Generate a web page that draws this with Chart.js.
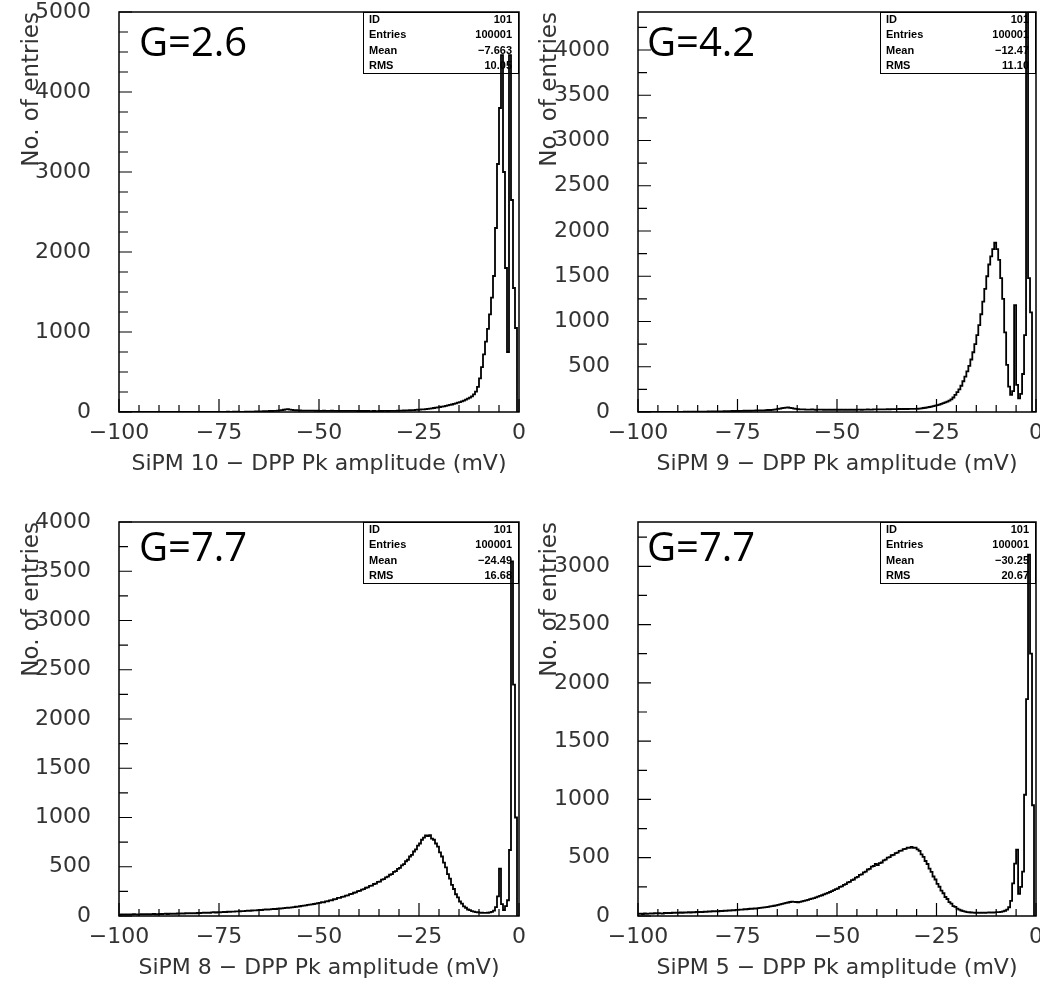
<!DOCTYPE html>
<html>
<head>
<meta charset="utf-8">
<title>SiPM DPP Pk amplitude</title>
<script src="https://cdn.jsdelivr.net/npm/chart.js@4.4.1/dist/chart.umd.min.js"></script>
<style>
  body { margin: 0; background: #fff; }
  #wrap { position: relative; width: 1040px; height: 995px; overflow: hidden; }
  canvas { position: absolute; }
</style>
</head>
<body>
<div id="wrap">
  <canvas id="p1" width="525" height="490" style="left:0;top:0"></canvas>
  <canvas id="p2" width="515" height="490" style="left:525px;top:0"></canvas>
  <canvas id="p3" width="525" height="505" style="left:0;top:490px"></canvas>
  <canvas id="p4" width="515" height="505" style="left:525px;top:490px"></canvas>
</div>
<script>
// histogram binning: 200 bins of 0.5 mV starting at -100 mV
const binStart = -100;
const binWidth = 0.5;
const xTicks = [-100, -75, -50, -25, 0];

// counts per bin, one row = 10 mV
const sipm10 = [
  0,0,1,0,0,1,0,0,0,1,0,0,1,0,0,0,1,0,0,1,
  0,1,0,0,1,0,0,1,0,0,1,0,1,0,0,1,0,1,0,1,
  1,0,1,2,1,0,2,1,1,2,1,2,1,2,3,2,1,3,2,3,
  1,2,2,3,3,4,5,4,6,7,8,8,10,11,12,13,12,14,15,16,
  20,24,28,32,35,30,27,24,22,20,19,18,17,18,17,16,17,16,15,16,
  15,14,16,15,14,15,16,14,15,14,13,15,14,13,14,13,14,13,14,12,
  13,12,14,12,13,12,12,13,12,12,13,12,14,13,12,14,13,15,14,16,
  18,17,19,21,20,22,24,23,26,28,30,32,34,37,40,43,46,50,54,58,
  62,66,71,76,82,88,94,101,108,116,124,133,143,154,166,180,196,220,255,315,
  420,560,720,880,1040,1220,1430,1700,2300,3100,3800,4460,3000,1800,750,4460,2650,1550,1050,0
];
const sipm9 = [
  0,0,1,0,1,0,0,1,0,1,1,0,1,1,0,1,2,1,1,2,
  2,1,2,3,2,3,2,3,4,3,4,3,5,4,5,6,5,6,7,6,
  7,8,7,9,8,10,9,11,10,12,11,13,12,14,13,15,14,16,15,17,
  18,17,19,18,20,22,21,24,26,30,34,38,42,45,48,50,46,42,38,35,
  32,30,29,28,27,26,27,28,26,25,26,27,26,25,24,26,25,24,25,26,
  24,25,26,24,25,23,25,26,24,25,26,27,25,26,27,28,26,27,28,29,
  28,29,30,29,30,31,30,31,32,31,32,33,32,33,34,33,34,35,34,35,
  36,38,41,44,47,51,55,59,64,70,75,82,90,98,106,115,125,140,160,190,
  220,250,290,340,390,450,510,580,660,750,850,960,1080,1220,1360,1500,1630,1720,1800,1870,
  1800,1680,1480,1250,880,520,280,190,230,1180,300,150,200,420,850,4600,1480,1100,0,0
];
const sipm8 = [
  12,15,13,16,14,17,15,18,16,14,17,19,16,18,20,17,19,21,18,20,
  22,19,21,23,20,24,22,25,23,26,24,27,25,28,26,29,27,30,28,31,
  30,32,34,31,35,33,36,38,35,39,37,40,42,39,43,41,45,44,47,46,
  48,50,49,52,54,53,56,58,57,60,62,61,64,66,65,68,70,72,71,74,
  76,78,80,82,84,86,88,91,94,96,99,102,105,108,112,115,118,122,126,130,
  134,140,139,149,150,159,160,170,172,183,184,195,196,207,210,222,224,236,240,252,
  256,268,272,287,290,305,309,325,329,346,350,369,374,393,399,419,426,448,456,479,
  488,514,526,556,571,604,620,655,676,714,736,774,796,818,812,822,786,774,736,704,
  646,604,541,494,426,379,316,274,221,189,147,125,98,84,66,60,49,45,39,38,
  35,33,32,31,33,36,42,55,90,200,480,120,60,100,160,670,3600,2350,1000,0
];
const sipm5 = [
  18,20,17,22,19,21,23,20,24,22,25,23,21,26,24,27,25,28,26,29,
  27,30,28,31,29,33,30,34,32,35,33,36,34,38,36,39,37,41,39,42,
  40,44,42,46,44,48,47,50,49,53,52,55,54,58,57,60,62,61,65,64,
  68,70,72,74,76,79,82,85,88,92,96,100,104,108,112,116,120,124,122,120,
  118,122,126,130,134,139,144,149,154,160,166,172,178,185,192,199,206,214,222,230,
  236,249,254,267,273,288,292,308,313,330,335,352,357,375,381,399,405,423,429,446,
  437,453,459,477,483,500,505,521,525,540,543,558,560,574,575,587,585,593,585,587,
  571,559,529,508,472,446,407,379,339,313,275,251,217,195,163,146,119,107,85,78,
  63,54,47,41,37,34,32,30,29,28,28,27,28,29,28,29,30,29,30,31,
  33,34,36,40,45,55,75,130,280,450,570,190,250,380,1040,1860,3100,2250,950,0
];

const yTicks10 = [0, 1000, 2000, 3000, 4000, 5000];
const yTicks9 = [0, 500, 1000, 1500, 2000, 2500, 3000, 3500, 4000];
const yTicks8 = [0, 500, 1000, 1500, 2000, 2500, 3000, 3500, 4000];
const yTicks5 = [0, 500, 1000, 1500, 2000, 2500, 3000];

const statNames = ["ID", "Entries", "Mean", "RMS"];
const stats10 = ["101", "100001", "\u22127.663", "10.05"];
const stats9 = ["101", "100001", "\u221212.47", "11.10"];
const stats8 = ["101", "100001", "\u221224.49", "16.68"];
const stats5 = ["101", "100001", "\u221230.25", "20.67"];

Chart.defaults.font.family = '"DejaVu Sans", sans-serif';
Chart.defaults.color = '#333';

function minusFmt(v) {
  return v < 0 ? '\u2212' + Math.abs(v) : String(v);
}

// ROOT-like frame, inward ticks, stats box and gain label
const rootStyle = {
  id: 'rootStyle',
  beforeDatasetsDraw(chart, args, o) {
    const { ctx, chartArea: a } = chart;
    const w = 156, h = 61;
    ctx.save();
    ctx.fillStyle = '#fff';
    ctx.fillRect(a.right - w, a.top, w, h);
    ctx.strokeStyle = '#000';
    ctx.lineWidth = 1;
    ctx.strokeRect(a.right - w + 0.5, a.top + 0.5, w - 1, h);
    ctx.fillStyle = '#000';
    ctx.font = 'bold 11px "Liberation Sans"';
    ctx.textBaseline = 'middle';
    statNames.forEach((n, i) => {
      const ty = a.top + 8 + i * 15.3;
      ctx.textAlign = 'left';
      ctx.fillText(n, a.right - w + 6, ty);
      ctx.textAlign = 'right';
      ctx.fillText(o.stats[i], a.right - 7, ty);
    });
    ctx.restore();
  },
  afterDatasetsDraw(chart, args, o) {
    const { ctx, chartArea: a, scales: { x, y } } = chart;
    ctx.save();
    ctx.strokeStyle = '#000';
    ctx.lineWidth = 1.5;
    ctx.strokeRect(a.left, a.top, a.right - a.left, a.bottom - a.top);
    ctx.lineWidth = 1.2;
    ctx.beginPath();
    for (let v = -100; v <= 0; v += 5) {
      const px = x.getPixelForValue(v);
      const len = v % 25 === 0 ? 13 : 7;
      ctx.moveTo(px, a.bottom);
      ctx.lineTo(px, a.bottom - len);
    }
    for (let v = 0; v <= y.max; v += 250) {
      const py = y.getPixelForValue(v);
      const len = v % o.yMajor === 0 ? 13 : 9;
      ctx.moveTo(a.left, py);
      ctx.lineTo(a.left + len, py);
    }
    ctx.stroke();
    ctx.fillStyle = '#000';
    ctx.font = '40px "Open Sans"';
    ctx.textAlign = 'left';
    ctx.textBaseline = 'middle';
    ctx.fillText(o.gain, a.left + o.gainDx, a.top + o.gainDy);
    ctx.restore();
  }
};

function drawPanel(id, counts, yMax, yTicks, stats, gain, name, geo) {
  const pts = counts.map((c, i) => ({ x: binStart + i * binWidth, y: c }));
  pts.push({ x: 0, y: counts[counts.length - 1] });
  const cv = document.getElementById(id);

  new Chart(cv, {
    type: 'line',
    data: {
      datasets: [{
        data: pts,
        stepped: true,
        borderColor: '#000',
        borderWidth: 1.8,
        pointRadius: 0,
        fill: false
      }]
    },
    options: {
      responsive: false,
      animation: false,
      devicePixelRatio: 1,
      events: [],
      layout: { padding: { top: geo.top, right: geo.right, left: 0, bottom: 0 } },
      plugins: {
        legend: { display: false },
        tooltip: { enabled: false },
        rootStyle: { stats, gain, yMajor: yTicks[1] - yTicks[0] === 1000 ? 1000 : 500, gainDx: geo.gainDx, gainDy: geo.gainDy }
      },
      scales: {
        x: {
          type: 'linear',
          min: -100,
          max: 0,
          grid: { display: false },
          border: { display: false },
          afterBuildTicks: s => { s.ticks = xTicks.map(v => ({ value: v })); },
          afterFit: s => { s.height = geo.xH; s.paddingLeft = 0; s.paddingRight = 0; },
          ticks: { padding: 0, font: { size: 22 }, maxRotation: 0, autoSkip: false, callback: v => minusFmt(v) },
          title: {
            display: true,
            text: name + ' \u2212 DPP Pk amplitude (mV)',
            font: { size: 22 },
            padding: { top: 0, bottom: geo.xH - 52 - 13.2 }
          }
        },
        y: {
          type: 'linear',
          min: 0,
          max: yMax,
          grid: { display: false },
          border: { display: false },
          afterBuildTicks: s => { s.ticks = yTicks.map(v => ({ value: v })); },
          afterFit: s => { s.width = geo.yW; s.paddingTop = 0; s.paddingBottom = 0; },
          ticks: { padding: 20, font: { size: 22 }, autoSkip: false, callback: v => String(v) },
          title: {
            display: true,
            text: 'No. of entries',
            align: 'end',
            font: { size: 23 },
            padding: { top: geo.yTitlePad, bottom: 0 }
          }
        }
      }
    },
    plugins: [rootStyle]
  });
}

drawPanel('p1', sipm10, 5000, yTicks10, stats10, 'G=2.6', 'SiPM 10',
  { top: 12, right: 6, yW: 119, xH: 78, yTitlePad: 18, gainDx: 20, gainDy: 33 });
drawPanel('p2', sipm9, 4420, yTicks9, stats9, 'G=4.2', 'SiPM 9',
  { top: 12, right: 4, yW: 113, xH: 78, yTitlePad: 11, gainDx: 9, gainDy: 33 });
drawPanel('p3', sipm8, 4000, yTicks8, stats8, 'G=7.7', 'SiPM 8',
  { top: 32, right: 6, yW: 119, xH: 79, yTitlePad: 18, gainDx: 20, gainDy: 28 });
drawPanel('p4', sipm5, 3380, yTicks5, stats5, 'G=7.7', 'SiPM 5',
  { top: 32, right: 4, yW: 113, xH: 79, yTitlePad: 11, gainDx: 9, gainDy: 28 });
</script>
</body>
</html>
